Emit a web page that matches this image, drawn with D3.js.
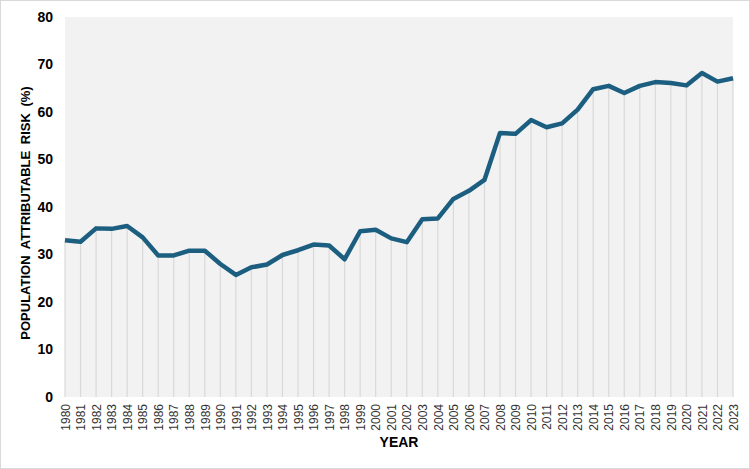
<!DOCTYPE html>
<html>
<head>
<meta charset="utf-8">
<script src="https://cdn.jsdelivr.net/npm/d3@7"></script>
<style>
  body { margin: 0; background: #fff; }
  svg { display: block; font-family: Arial, "Liberation Sans", sans-serif; }
</style>
</head>
<body>
<svg id="chart"></svg>
<script>
// values
var years = d3.range(1980, 2024);
var risk = [33.0, 32.7, 35.5, 35.4, 36.0, 33.6, 29.8, 29.8, 30.8, 30.8,
            28.0, 25.7, 27.3, 27.9, 29.9, 30.9, 32.1, 31.9, 29.0, 34.9,
            35.2, 33.4, 32.6, 37.4, 37.6, 41.7, 43.4, 45.7, 55.6, 55.4,
            58.3, 56.8, 57.6, 60.5, 64.8, 65.5, 64.0, 65.5, 66.3, 66.1,
            65.6, 68.2, 66.4, 67.1];
var yTicks = [0, 10, 20, 30, 40, 50, 60, 70, 80];

var width = 750, height = 469;
var margin = {left: 65, right: 17, top: 17, bottom: 72};

var svg = d3.select("#chart").attr("width", width).attr("height", height);

svg.append("rect").attr("x", 0.5).attr("y", 0.5).attr("width", width - 1).attr("height", height - 1)
  .attr("fill", "#fff").attr("stroke", "#d9d9d9");

var x = d3.scalePoint().domain(years).range([margin.left, width - margin.right]);
var y = d3.scaleLinear().domain([0, 80]).range([height - margin.bottom, margin.top]);

var data = years.map(function(yr, i){ return {year: yr, value: risk[i]}; });

// plot background
svg.append("rect")
  .attr("x", margin.left).attr("y", y(80))
  .attr("width", x(2023) - x(1980)).attr("height", y(0) - y(80))
  .attr("fill", "#f2f2f2");

// drop lines
svg.append("g").selectAll("line").data(data).enter().append("line")
  .attr("x1", function(d){ return x(d.year); })
  .attr("x2", function(d){ return x(d.year); })
  .attr("y1", y(0))
  .attr("y2", function(d){ return y(d.value); })
  .attr("stroke", "#d9d9d9").attr("stroke-width", 1.2);

// line
var line = d3.line().x(function(d){ return x(d.year); }).y(function(d){ return y(d.value); });
svg.append("path").datum(data).attr("d", line)
  .attr("fill", "none").attr("stroke", "#1c5e80").attr("stroke-width", 4.5)
  .attr("stroke-linejoin", "round").attr("stroke-linecap", "butt");

// y axis
var yAxis = svg.append("g").attr("transform", "translate(" + margin.left + ",0)")
  .call(d3.axisLeft(y).tickValues(yTicks).tickSize(0).tickPadding(12));
yAxis.select(".domain").remove();
yAxis.selectAll("text").attr("font-size", 14).attr("font-weight", "bold").attr("fill", "#000")
  .attr("font-family", "Arial, 'Liberation Sans', sans-serif");

// x axis
var xAxis = svg.append("g").attr("transform", "translate(0," + y(0) + ")")
  .call(d3.axisBottom(x).tickSize(0));
xAxis.select(".domain").remove();
xAxis.selectAll("text")
  .attr("font-size", 12).attr("fill", "#333")
  .attr("font-family", "Arial, 'Liberation Sans', sans-serif")
  .attr("transform", "rotate(-90)")
  .attr("text-anchor", "end")
  .attr("x", -7).attr("y", 0).attr("dy", "0.35em");

// titles
svg.append("text")
  .attr("transform", "translate(30," + ((y(0) + y(80)) / 2 + 6) + ") rotate(-90)")
  .attr("text-anchor", "middle").attr("font-size", 13).attr("font-weight", "bold")
  .attr("word-spacing", 3)
  .text("POPULATION ATTRIBUTABLE RISK (%)");

svg.append("text")
  .attr("x", (x(1980) + x(2023)) / 2).attr("y", 447)
  .attr("text-anchor", "middle").attr("font-size", 14).attr("font-weight", "bold")
  .text("YEAR");
</script>
</body>
</html>
